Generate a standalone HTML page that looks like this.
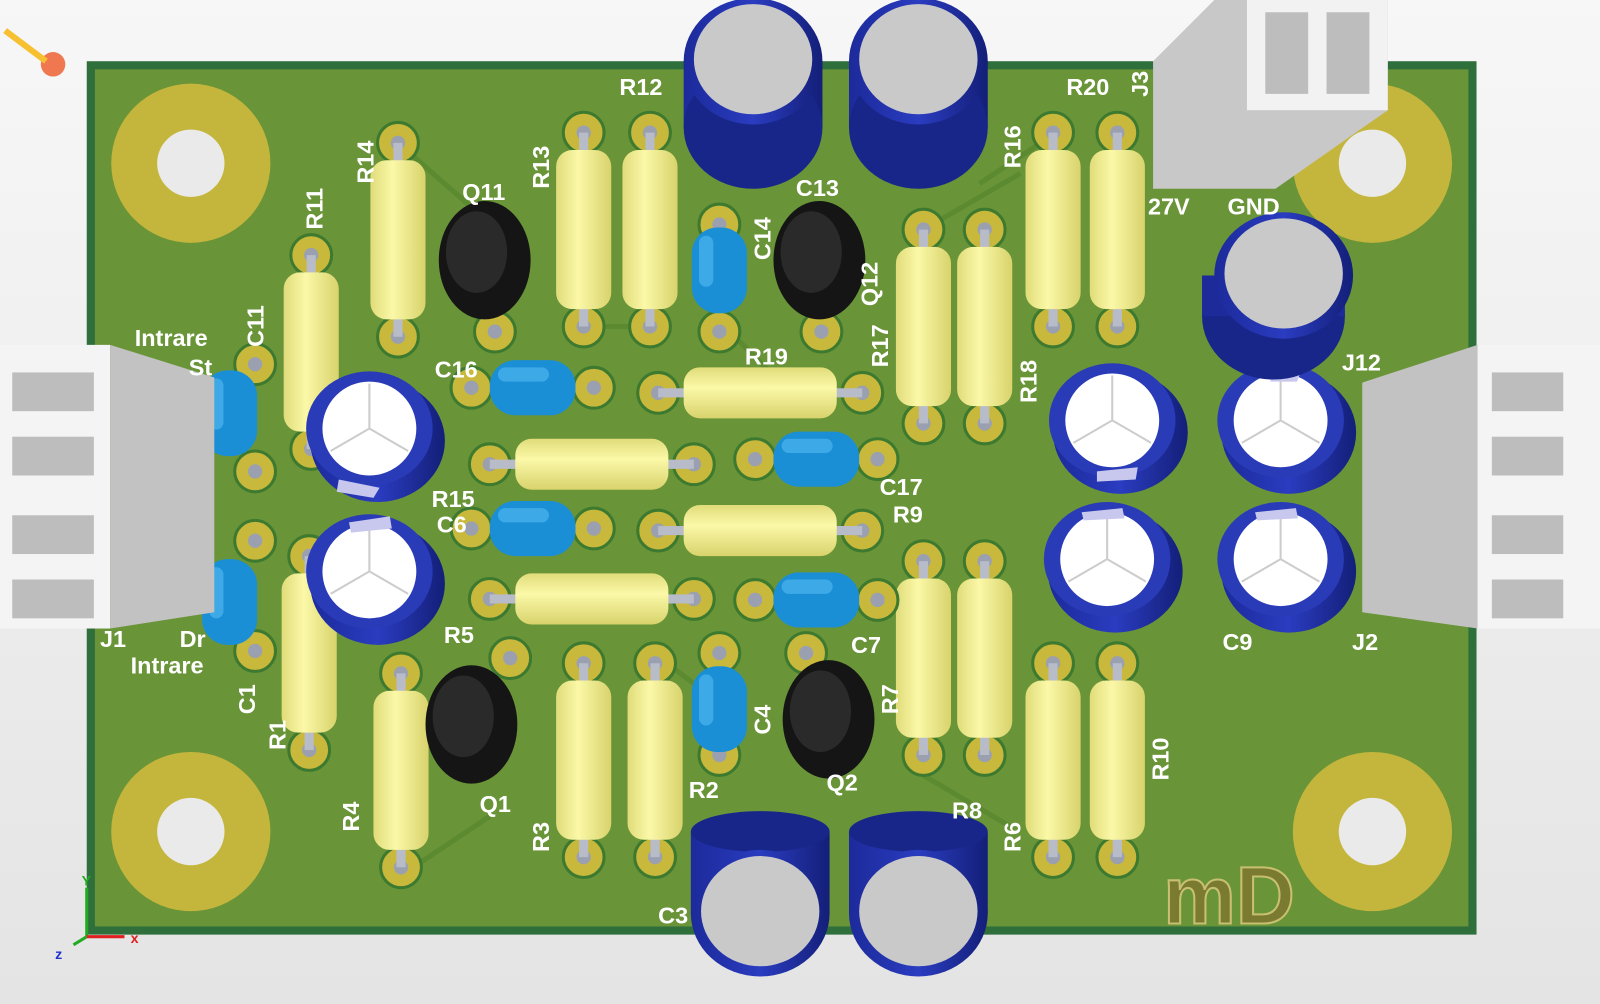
<!DOCTYPE html>
<html><head><style>
html,body{margin:0;padding:0;width:1600px;height:1004px;overflow:hidden;background:#ececec}
svg{display:block}
text{font-family:"Liberation Sans",sans-serif;font-weight:bold;fill:#fff;font-size:23px}
</style></head><body>
<svg width="1600" height="1004" viewBox="0 0 1568 984" preserveAspectRatio="none" xmlns="http://www.w3.org/2000/svg">
<defs>
<linearGradient id="bg" x1="0" y1="0" x2="0" y2="1"><stop offset="0" stop-color="#f7f7f7"/><stop offset="1" stop-color="#e4e4e4"/></linearGradient>
<linearGradient id="res" x1="0" y1="0" x2="1" y2="0"><stop offset="0" stop-color="#e0dc7a"/><stop offset="0.4" stop-color="#fbf8a8"/><stop offset="1" stop-color="#d8d36c"/></linearGradient>
<linearGradient id="resh" x1="0" y1="0" x2="0" y2="1"><stop offset="0" stop-color="#e0dc7a"/><stop offset="0.4" stop-color="#fbf8a8"/><stop offset="1" stop-color="#d8d36c"/></linearGradient>
<linearGradient id="cyl" x1="0" y1="0" x2="1" y2="0"><stop offset="0" stop-color="#1c2a9a"/><stop offset="0.5" stop-color="#2a3cc0"/><stop offset="1" stop-color="#141f78"/></linearGradient>
<g id="pad"><circle r="20" fill="#c8b83c" stroke="#3d7a30" stroke-width="3"/><circle r="7" fill="#9aa0b0"/></g>
<g id="resV"><use href="#pad" y="-95"/><use href="#pad" y="95"/><path d="M0,-95 V95" stroke="#b8bcc8" stroke-width="9"/><rect x="-27" y="-78" width="54" height="156" rx="16" fill="url(#res)"/></g>
<g id="resH"><use href="#pad" x="-100"/><use href="#pad" x="100"/><path d="M-100,0 H100" stroke="#b8bcc8" stroke-width="9"/><rect x="-75" y="-25" width="150" height="50" rx="16" fill="url(#resh)"/></g>
<g id="bcapH"><use href="#pad" x="-60"/><use href="#pad" x="60"/><rect x="-42" y="-27" width="84" height="54" rx="25" fill="#1a8fd6"/><rect x="-34" y="-20" width="50" height="14" rx="7" fill="#4fb4ee" opacity=".7"/></g>
<g id="bcapV"><rect x="-27" y="-42" width="54" height="84" rx="25" fill="#1a8fd6"/><rect x="-20" y="-34" width="14" height="50" rx="7" fill="#4fb4ee" opacity=".7"/></g>
<g id="ecap"><ellipse cx="8" cy="12" rx="66" ry="60" fill="url(#cyl)"/><ellipse cx="0" cy="0" rx="62" ry="56" fill="#2a3bb8"/><circle r="46" fill="#fff"/><path d="M0,0 L0,-44 M0,0 L38,22 M0,0 L-38,22" stroke="#ccc" stroke-width="2"/></g>
<g id="bigcap"><rect x="-68" y="0" width="136" height="65" fill="url(#cyl)"/><ellipse cy="65" rx="68" ry="60" fill="#18268a"/><ellipse cy="0" rx="68" ry="62" fill="url(#cyl)"/><ellipse cy="-2" rx="58" ry="54" fill="#c9c9c9"/></g>
<g id="tr"><ellipse rx="45" ry="58" fill="#151515"/><ellipse cx="-8" cy="-8" rx="30" ry="40" fill="#2a2a2a"/></g>
</defs>
<rect width="1568" height="984" fill="url(#bg)"/>
<rect x="85" y="60" width="1362" height="856" fill="#2f6f3b"/>
<rect x="93" y="68" width="1346" height="840" fill="#6a9438"/>
<g fill="#c4b63c"><circle cx="187" cy="160" r="78"/><circle cx="1345" cy="160" r="78"/><circle cx="187" cy="815" r="78"/><circle cx="1345" cy="815" r="78"/></g>
<g fill="#eaeaea"><circle cx="187" cy="160" r="33"/><circle cx="1345" cy="160" r="33"/><circle cx="187" cy="815" r="33"/><circle cx="1345" cy="815" r="33"/></g>
<g stroke="#5c8a30" stroke-width="5" fill="none"><path d="M390,140 L470,210 M570,320 L640,320 M710,320 L760,370 M905,225 L1000,170 M1035,130 L960,180 M640,640 L720,700 M905,760 L990,810 M390,860 L480,800"/></g>
<use href="#resV" x="390" y="235"/><use href="#resV" x="305" y="345"/><use href="#resV" x="572" y="225"/><use href="#resV" x="637" y="225"/>
<use href="#resV" x="1032" y="225"/><use href="#resV" x="1095" y="225"/><use href="#resV" x="905" y="320"/><use href="#resV" x="965" y="320"/>
<use href="#resV" x="905" y="645"/><use href="#resV" x="965" y="645"/><use href="#resV" x="1032" y="745"/><use href="#resV" x="1095" y="745"/>
<use href="#resV" x="572" y="745"/><use href="#resV" x="642" y="745"/><use href="#resV" x="393" y="755"/><use href="#resV" x="303" y="640"/>
<use href="#resH" x="745" y="385"/><use href="#resH" x="580" y="455"/><use href="#resH" x="745" y="520"/><use href="#resH" x="580" y="587"/>
<use href="#bcapH" x="522" y="380"/><use href="#bcapH" x="800" y="450"/><use href="#bcapH" x="522" y="518"/><use href="#bcapH" x="800" y="588"/>
<use href="#pad" x="705" y="220"/><use href="#pad" x="705" y="325"/><use href="#bcapV" x="705" y="265"/>
<use href="#pad" x="705" y="640"/><use href="#pad" x="705" y="740"/><use href="#bcapV" x="705" y="695"/>
<use href="#pad" x="250" y="357"/><use href="#pad" x="250" y="462"/><use href="#bcapV" x="225" y="405"/>
<use href="#pad" x="250" y="530"/><use href="#pad" x="250" y="638"/><use href="#bcapV" x="225" y="590"/>
<use href="#pad" x="485" y="325"/><use href="#pad" x="805" y="325"/><use href="#pad" x="500" y="645"/><use href="#pad" x="790" y="640"/>
<use href="#tr" x="475" y="255"/><use href="#tr" x="803" y="255"/><use href="#tr" x="462" y="710"/><use href="#tr" x="812" y="705"/>
<use href="#ecap" x="362" y="420"/><use href="#ecap" x="362" y="560"/><use href="#ecap" x="1090" y="412"/><use href="#ecap" x="1255" y="412"/><use href="#ecap" x="1085" y="548"/><use href="#ecap" x="1255" y="548"/>
<g fill="#c8c8ee"><path d="M332,470 l40,8 -6,10 -36,-6z"/><path d="M342,512 l40,-6 2,12 -40,4z"/><path d="M1075,462 l40,-4 -2,12 -38,2z"/><path d="M1060,502 l40,-4 2,10 -40,2z"/><path d="M1245,364 l30,0 -4,10 -26,0z"/><path d="M1230,502 l40,-4 2,10 -40,2z"/></g>
<use href="#bigcap" x="738" y="60"/><use href="#bigcap" x="900" y="60"/>
<g transform="translate(1258,270)"><ellipse cx="-10" cy="40" rx="70" ry="62" fill="#18268a"/><rect x="-80" y="0" width="140" height="40" fill="#1c2a9a"/><ellipse cx="0" cy="0" rx="68" ry="62" fill="url(#cyl)"/><ellipse cx="0" cy="-2" rx="58" ry="54" fill="#c9c9c9"/></g>
<g transform="translate(745,895)"><rect x="-68" y="-80" width="136" height="80" fill="url(#cyl)"/><ellipse cy="-80" rx="68" ry="20" fill="#18268a"/><ellipse rx="68" ry="62" fill="url(#cyl)"/><ellipse cy="-2" rx="58" ry="54" fill="#c9c9c9"/></g>
<g transform="translate(900,895)"><rect x="-68" y="-80" width="136" height="80" fill="url(#cyl)"/><ellipse cy="-80" rx="68" ry="20" fill="#18268a"/><ellipse rx="68" ry="62" fill="url(#cyl)"/><ellipse cy="-2" rx="58" ry="54" fill="#c9c9c9"/></g>
<rect x="0" y="338" width="108" height="278" fill="#f4f4f4"/>
<polygon points="108,338 210,370 210,600 108,616" fill="#c2c2c2"/>
<g fill="#bdbdbd"><rect x="12" y="365" width="80" height="38"/><rect x="12" y="428" width="80" height="38"/><rect x="12" y="505" width="80" height="38"/><rect x="12" y="568" width="80" height="38"/></g>
<rect x="1448" y="338" width="120" height="278" fill="#f4f4f4"/>
<polygon points="1448,338 1335,375 1335,600 1448,616" fill="#c2c2c2"/>
<g fill="#bdbdbd"><rect x="1462" y="365" width="70" height="38"/><rect x="1462" y="428" width="70" height="38"/><rect x="1462" y="505" width="70" height="38"/><rect x="1462" y="568" width="70" height="38"/></g>
<polygon points="1130,60 1190,0 1360,0 1360,108 1250,185 1130,185" fill="#c8c8c8"/>
<rect x="1222" y="0" width="138" height="108" fill="#f2f2f2"/>
<g fill="#bdbdbd"><rect x="1240" y="12" width="42" height="80"/><rect x="1300" y="12" width="42" height="80"/></g>
<text x="1140" y="905" style="font-size:80px;fill:#7a7a30;stroke:#c8c070;stroke-width:2">mD</text>
<path d="M85,918 V870 M85,918 L72,926" stroke-width="3" fill="none" stroke="#22aa22"/><path d="M85,918 H122" stroke="#e02020" stroke-width="3"/>
<text x="128" y="924" style="font-size:14px;fill:#e02020">x</text><text x="80" y="868" style="font-size:14px;fill:#22aa22">Y</text><text x="54" y="940" style="font-size:14px;fill:#2233cc">z</text>
<circle cx="52" cy="63" r="12" fill="#f07850"/><path d="M5,30 L45,60" stroke="#f6c030" stroke-width="6"/>
<text x="607" y="93">R12</text><text x="1045" y="93">R20</text><text x="453" y="196">Q11</text><text x="780" y="192">C13</text>
<text x="730" y="357">R19</text><text x="426" y="370">C16</text><text x="132" y="339">Intrare</text><text x="185" y="368">St</text>
<text x="423" y="497">R15</text><text x="428" y="522">C6</text><text x="862" y="485">C17</text><text x="875" y="512">R9</text>
<text x="435" y="630">R5</text><text x="834" y="640">C7</text><text x="98" y="634">J1</text><text x="176" y="634">Dr</text><text x="128" y="660">Intrare</text>
<text x="470" y="796">Q1</text><text x="675" y="782">R2</text><text x="810" y="775">Q2</text><text x="933" y="802">R8</text>
<text x="1198" y="637">C9</text><text x="1325" y="637">J2</text><text x="1315" y="363">J12</text><text x="1125" y="210">27V</text><text x="1203" y="210">GND</text>
<text x="645" y="905">C3</text>
<g><text transform="translate(366,180) rotate(-90)">R14</text><text transform="translate(316,225) rotate(-90)">R11</text><text transform="translate(258,340) rotate(-90)">C11</text>
<text transform="translate(538,185) rotate(-90)">R13</text><text transform="translate(755,255) rotate(-90)">C14</text><text transform="translate(860,300) rotate(-90)">Q12</text>
<text transform="translate(870,360) rotate(-90)">R17</text><text transform="translate(1000,165) rotate(-90)">R16</text><text transform="translate(1016,395) rotate(-90)">R18</text>
<text transform="translate(1125,95) rotate(-90)">J3</text><text transform="translate(250,700) rotate(-90)">C1</text><text transform="translate(280,735) rotate(-90)">R1</text>
<text transform="translate(352,815) rotate(-90)">R4</text><text transform="translate(538,835) rotate(-90)">R3</text><text transform="translate(755,720) rotate(-90)">C4</text>
<text transform="translate(880,700) rotate(-90)">R7</text><text transform="translate(1000,835) rotate(-90)">R6</text><text transform="translate(1145,765) rotate(-90)">R10</text></g>
</svg>
</body></html>
